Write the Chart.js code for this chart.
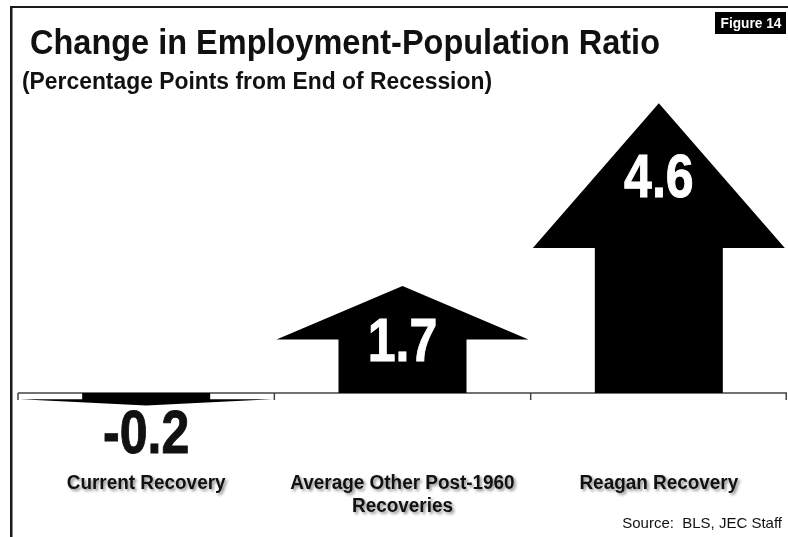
<!DOCTYPE html>
<html>
<head>
<meta charset="utf-8">
<script src="https://cdn.jsdelivr.net/npm/chart.js@4.4.1/dist/chart.umd.min.js"></script>
<style>
  html, body { margin: 0; padding: 0; background: #fff; }
  #chartContainer { position: relative; width: 788px; height: 537px; }
</style>
</head>
<body>
<div id="chartContainer"><canvas id="chart"></canvas></div>
<script>
// recoveries compared, change in employment-population ratio (pct points)
const categories = [
  ["Current Recovery"],
  ["Average Other Post-1960", "Recoveries"],
  ["Reagan Recovery"]
];
const changeValues = [-0.2, 1.7, 4.6];

const chartTitle = "Change in Employment-Population Ratio";
const chartSubtitle = "(Percentage Points from End of Recession)";
const figureTag = "Figure 14";
const sourceText = "Source:  BLS, JEC Staff";

const FONT = "'Liberation Sans', Arial, Helvetica, sans-serif";
const INK = "#111";

// title block, frame lines, figure tag and source note
const framePlugin = {
  id: "frame",
  beforeDraw(chart) {
    const ctx = chart.ctx;
    ctx.save();
    ctx.fillStyle = "#fff";
    ctx.fillRect(0, 0, chart.width, chart.height);

    ctx.fillStyle = "#1a1a1a";
    ctx.fillRect(10, 6, chart.width - 10, 2);
    ctx.fillRect(10, 6, 2.5, chart.height - 6);

    ctx.fillStyle = INK;
    ctx.textAlign = "left";
    ctx.textBaseline = "alphabetic";
    ctx.font = "bold 35px " + FONT;
    ctx.fillText(chartTitle, 30, 54, 630);
    ctx.font = "bold 23.5px " + FONT;
    ctx.fillText(chartSubtitle, 22, 89, 470);

    // black tag top right
    ctx.fillStyle = "#000";
    ctx.fillRect(715, 12, 71, 22);
    ctx.fillStyle = "#fff";
    ctx.textAlign = "center";
    ctx.font = "bold 14.5px " + FONT;
    ctx.fillText(figureTag, 751, 28, 61);

    ctx.fillStyle = INK;
    ctx.textAlign = "right";
    ctx.font = "15px " + FONT;
    ctx.fillText(sourceText, 782, 528);
    ctx.restore();
  }
};

// zero line with category ticks, and the category names underneath
const axisPlugin = {
  id: "zeroAxis",
  beforeDatasetsDraw(chart) {
    const ctx = chart.ctx;
    const xs = chart.scales.x;
    const ys = chart.scales.y;
    const zero = ys.getPixelForValue(0);
    const n = categories.length;
    const step = (xs.right - xs.left) / n;

    ctx.save();
    ctx.strokeStyle = "#444";
    ctx.lineWidth = 1.5;
    ctx.beginPath();
    ctx.moveTo(xs.left, zero);
    ctx.lineTo(xs.right, zero);
    for (let i = 0; i <= n; i++) {
      const bx = Math.min(xs.left + step * i, xs.right - 0.75);
      ctx.moveTo(bx, zero);
      ctx.lineTo(bx, zero + 7);
    }
    ctx.stroke();

    ctx.font = "bold 19.5px " + FONT;
    ctx.textAlign = "center";
    ctx.textBaseline = "alphabetic";
    ctx.fillStyle = INK;
    ctx.shadowColor = "rgba(0,0,0,0.45)";
    ctx.shadowOffsetX = 2;
    ctx.shadowOffsetY = 2;
    ctx.shadowBlur = 3;
    categories.forEach((lines, i) => {
      const cx = xs.getPixelForValue(i);
      lines.forEach((line, j) => {
        const w = ctx.measureText(line).width * 0.97;
        ctx.fillText(line, cx, 489 + j * 23, w);
      });
    });
    ctx.restore();
  }
};

// each bar is drawn as a block arrow: head as wide as the bar, shaft half of it
const arrowPlugin = {
  id: "arrowBars",
  afterDatasetsDraw(chart) {
    const ctx = chart.ctx;
    const meta = chart.getDatasetMeta(0);
    const capH = 61 * 0.716;

    ctx.save();
    meta.data.forEach((bar, i) => {
      const { x, y, base, width } = bar.getProps(["x", "y", "base", "width"], true);
      const len = base - y;              // > 0 points up
      const dir = Math.sign(len) || 1;
      const headLen = Math.abs(len) * 0.5;
      const headBase = y + dir * headLen;
      const hw = width / 2;
      const sw = width * 0.254;

      ctx.fillStyle = "#000";
      ctx.beginPath();
      ctx.moveTo(x, y);
      ctx.lineTo(x + hw, headBase);
      ctx.lineTo(x + sw, headBase);
      ctx.lineTo(x + sw, base);
      ctx.lineTo(x - sw, base);
      ctx.lineTo(x - sw, headBase);
      ctx.lineTo(x - hw, headBase);
      ctx.closePath();
      ctx.fill();

      // value label, condensed bold digits
      const txt = changeValues[i].toFixed(1);
      ctx.font = "bold 61px " + FONT;
      ctx.textAlign = "center";
      ctx.textBaseline = "alphabetic";
      const w = ctx.measureText(txt).width * 0.82;
      let ty;
      if (dir > 0) {
        ctx.fillStyle = "#fff";
        const mid = headLen >= capH * 2 ? (y + headBase) / 2 : (y + base) / 2;
        ty = mid + capH / 2;
      } else {
        ctx.fillStyle = INK;
        ty = y + 47;
      }
      ctx.strokeStyle = ctx.fillStyle;
      ctx.lineWidth = 1;
      ctx.fillText(txt, x, ty, w);
      ctx.strokeText(txt, x, ty, w);
    });
    ctx.restore();
  }
};

const chartOptions = {
  type: "bar",
  data: {
    labels: categories,
    datasets: [{
      data: changeValues,
      backgroundColor: "rgba(0,0,0,0)",
      borderWidth: 0,
      barPercentage: 0.983,
      categoryPercentage: 1
    }]
  },
  options: {
    responsive: true,
    maintainAspectRatio: false,
    animation: false,
    layout: { padding: { left: 18, right: 1, top: 78, bottom: 81 } },
    scales: {
      x: { display: false },
      y: { display: false, min: -1, max: 5 }
    },
    plugins: {
      legend: { display: false },
      tooltip: { enabled: false },
      title: { display: false }
    }
  },
  plugins: [framePlugin, axisPlugin, arrowPlugin]
};

new Chart(document.getElementById("chart"), chartOptions);
</script>
</body>
</html>
